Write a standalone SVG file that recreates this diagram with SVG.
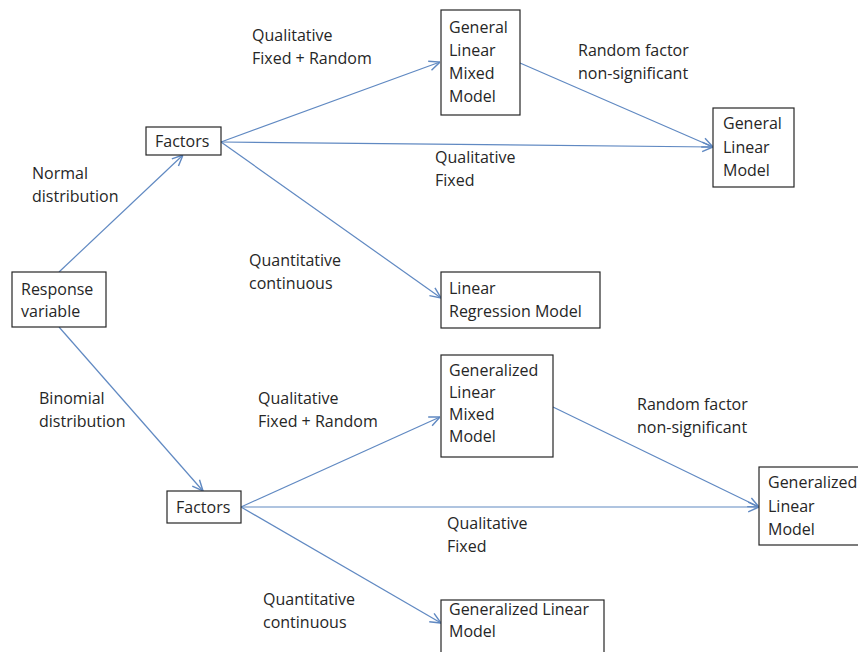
<svg xmlns="http://www.w3.org/2000/svg" width="858" height="652" viewBox="0 0 858 652">
<defs>
<marker id="arr" markerWidth="12" markerHeight="12" refX="10" refY="5" orient="auto" markerUnits="userSpaceOnUse" viewBox="0 0 10 10">
<path d="M1,1 L10,5 L1,9" fill="none" stroke="#6089C2" stroke-width="1.2"/>
</marker>
<style>
text{font-family:"Open Sans","Liberation Sans",Arial,sans-serif;font-size:16px;fill:#262626}
.box{fill:#fff;stroke:#262626;stroke-width:1.2}
.c{fill:none;stroke:#6089C2;stroke-width:1.2;marker-end:url(#arr)}
</style>
</defs>
<rect width="858" height="652" fill="#fff"/>
<g id="connectors">
<line class="c" x1="59" y1="272" x2="183" y2="155"/>
<line class="c" x1="221" y1="142" x2="440" y2="62"/>
<line class="c" x1="221" y1="142" x2="713" y2="147"/>
<line class="c" x1="221" y1="142" x2="441" y2="298"/>
<line class="c" x1="520" y1="63" x2="713" y2="147"/>
<line class="c" x1="59" y1="327" x2="203" y2="491"/>
<line class="c" x1="241" y1="507" x2="440" y2="417"/>
<line class="c" x1="241" y1="507" x2="759" y2="507"/>
<line class="c" x1="241" y1="507" x2="441" y2="623"/>
<line class="c" x1="553" y1="407" x2="759" y2="507"/>
</g>
<g id="response"><rect class="box" x="12" y="272" width="94" height="55"/><text x="21" y="295">Response</text><text x="21" y="317">variable</text></g>
<g id="factors-top"><rect class="box" x="146" y="127" width="75" height="28"/><text x="155" y="147">Factors</text></g>
<g id="glmm"><rect class="box" x="441" y="10" width="79" height="105"/><text x="449" y="33">General</text><text x="449" y="56">Linear</text><text x="449" y="79">Mixed</text><text x="449" y="102">Model</text></g>
<g id="glm"><rect class="box" x="713" y="108" width="81" height="79"/><text x="723" y="129">General</text><text x="723" y="153">Linear</text><text x="723" y="176">Model</text></g>
<g id="lrm"><rect class="box" x="441" y="272" width="159" height="56"/><text x="449" y="294">Linear</text><text x="449" y="317">Regression Model</text></g>
<g id="factors-bottom"><rect class="box" x="167" y="491" width="74" height="32"/><text x="176" y="513">Factors</text></g>
<g id="genlmm"><rect class="box" x="441" y="355" width="112" height="102"/><text x="449" y="376">Generalized</text><text x="449" y="398">Linear</text><text x="449" y="420">Mixed</text><text x="449" y="442">Model</text></g>
<g id="genlm"><rect class="box" x="759" y="467" width="110" height="78"/><text x="768" y="488">Generalized</text><text x="768" y="512">Linear</text><text x="768" y="535">Model</text></g>
<g id="genlm2"><rect class="box" x="441" y="600" width="163" height="70"/><text x="449" y="615">Generalized Linear</text><text x="449" y="637">Model</text></g>
<g id="labels">
<text x="32" y="179">Normal</text><text x="32" y="202">distribution</text>
<text x="252" y="41">Qualitative</text><text x="252" y="64">Fixed + Random</text>
<text x="578" y="56">Random factor</text><text x="578" y="79">non-significant</text>
<text x="435" y="163">Qualitative</text><text x="435" y="186">Fixed</text>
<text x="249" y="266">Quantitative</text><text x="249" y="289">continuous</text>
<text x="39" y="404">Binomial</text><text x="39" y="427">distribution</text>
<text x="258" y="404">Qualitative</text><text x="258" y="427">Fixed + Random</text>
<text x="637" y="410">Random factor</text><text x="637" y="433">non-significant</text>
<text x="447" y="529">Qualitative</text><text x="447" y="552">Fixed</text>
<text x="263" y="605">Quantitative</text><text x="263" y="628">continuous</text>
</g>
</svg>
